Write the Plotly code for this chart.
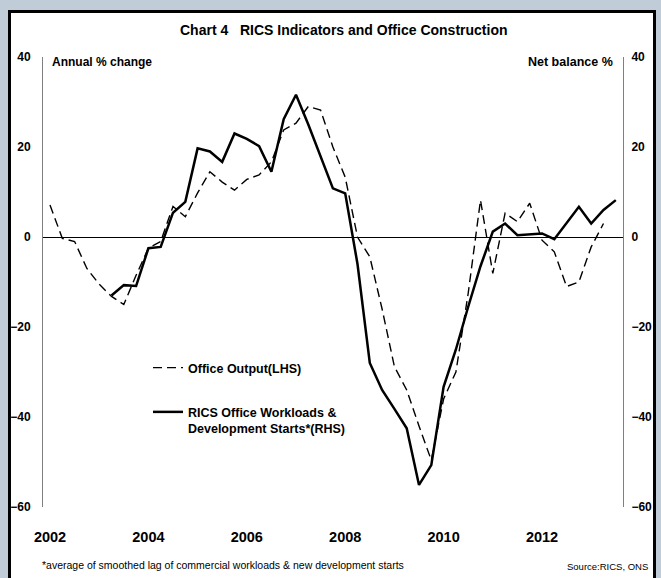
import plotly.graph_objects as go

# ---- data ----
quarters = [f"{2002 + i // 4}Q{i % 4 + 1}" for i in range(47)]  # 2002Q1 .. 2013Q3

office_output = [7.1, -0.3, -1.0, -7.0, -10.5, -13.2, -15.0, -8.5, -2.5, -1.0,
                 6.8, 4.5, 9.8, 14.5, 12.2, 10.4, 12.8, 13.8, 16.7, 23.8,
                 25.3, 29.0, 28.2, 20.0, 13.3, 0.0, -4.4, -16.0, -28.8, -34.0,
                 -42.0, -49.6, -36.0, -30.0, -12.5, 8.2, -8.1, 5.3, 3.4, 7.5,
                 -0.7, -3.3, -11.0, -10.0, -2.2, 3.0, None]

rics_workloads = [None, None, None, None, None, -13.0, -10.7, -10.9, -2.5, -2.2,
                  5.4, 7.8, 19.7, 19.0, 16.7, 23.0, 21.8, 20.2, 14.5, 26.2,
                  31.6, 25.0, 18.0, 10.8, 9.7, -6.0, -28.0, -34.0, -38.2, -42.5,
                  -55.1, -50.7, -33.3, -25.0, -15.5, -6.5, 1.2, 3.0, 0.4, 0.6,
                  0.8, -0.5, 3.2, 6.7, 3.0, 6.0, 8.2]

x_tick_vals = [2002, 2004, 2006, 2008, 2010, 2012]
x_tick_text = ["2002", "2004", "2006", "2008", "2010", "2012"]
y_tick_vals = [-60, -40, -20, 0, 20, 40]

# decimal-year positions of the quarters
x_pos = [int(q[:4]) + (int(q[-1]) - 1) / 4 for q in quarters]

FONT = "Liberation Sans, Arial, sans-serif"

W, H = 661, 578
L, R, T, B = 43, 623, 57, 507  # plot area in pixels


def px(xp):
    return (xp - L) / (R - L)


def py(yp):
    return (B - yp) / (B - T)


fig = go.Figure()
fig.add_trace(go.Scatter(
    x=x_pos, y=office_output, mode="lines", name="Office Output(LHS)",
    line=dict(color="black", width=1.4, dash="9px,5px"),
    legendgroup="a", yaxis="y"))
fig.add_trace(go.Scatter(
    x=x_pos, y=rics_workloads, mode="lines",
    name="RICS Office Workloads &<br>Development Starts*(RHS)",
    line=dict(color="black", width=2.5),
    legendgroup="b", yaxis="y2"))

fig.update_layout(
    width=W, height=H,
    margin=dict(l=L, r=W - R, t=T, b=H - B, pad=0, autoexpand=False),
    paper_bgcolor="#c0ccd8",
    plot_bgcolor="white",
    font=dict(family=FONT, color="black"),
    showlegend=True,
    legend=dict(x=px(148), y=py(353), xanchor="left", yanchor="top",
                bgcolor="rgba(0,0,0,0)", font=dict(size=12.5, weight="bold"),
                tracegroupgap=25, valign="top"),
    xaxis=dict(range=[2002 - 7 / 49.2, 2002 + 573 / 49.2], tickvals=x_tick_vals,
               ticktext=x_tick_text, showgrid=False, zeroline=False, showline=False,
               ticks="", tickfont=dict(size=14.5, weight="bold"), ticklabelstandoff=19,
               automargin=False),
    yaxis=dict(range=[-60, 40], tickvals=y_tick_vals, showgrid=False,
               zeroline=True, zerolinecolor="black", zerolinewidth=1,
               showline=True, linecolor="#808080", linewidth=1, ticks="",
               tickfont=dict(size=12, weight="bold"), ticklabelstandoff=9,
               automargin=False),
    yaxis2=dict(range=[-60, 40], tickvals=y_tick_vals, overlaying="y", side="right",
                showgrid=False, zeroline=False, showline=True, linecolor="#808080",
                linewidth=1, ticks="", tickfont=dict(size=12, weight="bold"),
                ticklabelstandoff=5, automargin=False),
    shapes=[dict(type="rect", xref="paper", yref="paper", layer="below",
                 x0=px(9.5), x1=px(654.5), y0=py(595), y1=py(11.5),
                 fillcolor="white", line=dict(color="black", width=3))],
    annotations=[
        dict(text="<b>Chart 4   RICS Indicators and Office Construction</b>",
             xref="paper", yref="paper", x=px(343), y=py(30), showarrow=False,
             xanchor="center", yanchor="middle", font=dict(size=14)),
        dict(text="<b>Annual % change</b>", xref="paper", yref="paper",
             x=px(50), y=py(62), showarrow=False, xanchor="left", yanchor="middle",
             font=dict(size=12)),
        dict(text="<b>Net balance %</b>", xref="paper", yref="paper",
             x=px(615), y=py(62), showarrow=False, xanchor="right", yanchor="middle",
             font=dict(size=12.5)),
        dict(text="*average of smoothed lag of commercial workloads & new development starts",
             xref="paper", yref="paper", x=px(40), y=py(565), showarrow=False,
             xanchor="left", yanchor="middle", font=dict(size=10.5)),
        dict(text="Source:RICS, ONS", xref="paper", yref="paper",
             x=px(650), y=py(566), showarrow=False, xanchor="right", yanchor="middle",
             font=dict(size=9.5)),
    ],
)

fig.write_html("out.html",
               config={"displayModeBar": False},
               post_script="document.body.style.margin='0';"
                           "document.body.style.overflow='hidden';")
